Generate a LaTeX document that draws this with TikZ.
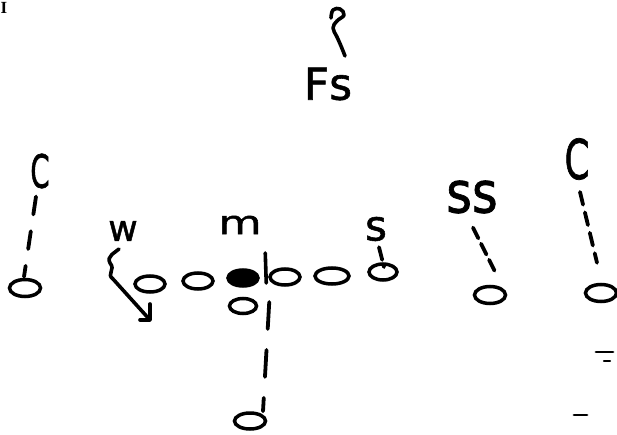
\documentclass[tikz,border=0pt]{standalone}
\usepackage{fontspec}
\usepackage{graphicx}
\setmainfont{DejaVu Sans}[BoldFont=DejaVu Sans, BoldFeatures={FakeBold=1.3}]
\newfontfamily\markfont{Liberation Serif}
\usetikzlibrary{shapes.geometric}
\begin{document}
\begin{tikzpicture}[x=1pt,y=-1pt,
  ink/.style={line width=3.6pt, line cap=round, line join=round},
  man/.style={ellipse, draw, line width=3.5pt, minimum width=30pt, minimum height=16pt, inner sep=0pt},
  lbl/.style={inner sep=0pt, font=\fontsize{#1}{#1}\selectfont\bfseries},
  lbl/.default=36,
  assign/.style={ink, line width=3.8pt}]
\useasboundingbox (0,0) rectangle (617,435);

% offensive line and backs
\node[man, minimum width=31pt, minimum height=17pt] (cl) at (25,288) {};
\node[man] (w1) at (150,284) {};
\node[man] (w2) at (198,281) {};
\node[man, fill] (ctr) at (243,278) {};
\node[man] (g2) at (285,277) {};
\node[man, minimum width=34pt] (t2) at (332,276) {};
\node[man, minimum width=28pt] (sl) at (383,272) {};
\node[man, minimum width=27pt, minimum height=15pt] (qb) at (243,306) {};
\node[man, minimum width=31pt] (rb) at (250,421) {};
\node[man, minimum width=31pt, minimum height=17pt] (ssm) at (490,295) {};
\node[man, minimum width=31pt, minimum height=17pt] (cr) at (601,293) {};

% defensive labels
\node[lbl=44] (lfs) at (328,84) {Fs};
\node[lbl=46] (lcl) at (40,171) {\scalebox{0.6}[1]{C}};
\node[lbl=36] (lw) at (123,231) {w};
\node[lbl=33] (lm) at (240,225) {\scalebox{1.35}[1]{m}};
\node[lbl=42] (ls) at (376,229) {s};
\node[lbl=52] (lss) at (472,197) {\scalebox{0.95}[1.1]{ss}};
\node[lbl=55] (lcr) at (577,159) {\scalebox{0.65}[1]{C}};
\node[inner sep=0pt, font=\markfont\bfseries\fontsize{17}{17}\selectfont] (mark) at (4,8) {I};

% free safety route
\draw[ink] plot[smooth, tension=0.7] coordinates
  {(331,18) (333,10) (340,9) (344,15) (337,21) (333,28) (337,37) (341,46) (345,56)};

% assignment lines
\draw[assign, dash pattern=on 18pt off 17pt]
  ([shift={(-4,8)}]lcl.south) -- ([shift={(-1,-1)}]cl.north);
\draw[assign, dash pattern=on 13pt off 8pt]
  ([shift={(3,12)}]lcr.south) -- ([shift={(-4,-20)}]cr.north);
\draw[assign, dash pattern=on 12pt off 6pt]
  ([shift={(1,14)}]lss.south) -- ([shift={(7,-9)}]ssm.north);
\draw[assign, dash pattern=on 13pt off 6pt]
  ([shift={(3,6)}]ls.south) -- ([shift={(1,-5)}]sl.center);
\draw[ink] ([shift={(-3,-24)}]g2.west) -- ([shift={(-2,6)}]g2.west);
\draw[assign, dash pattern=on 27pt off 21pt]
  ([shift={(11,-4)}]qb.east) -- ([shift={(13,0)}]rb.north);

% weak-side linebacker drop
\coordinate (wend) at (150,320);
\draw[ink] ([shift={(-4,8)}]lw.south) .. controls (116,252) and (106,256) .. (110,263)
  .. controls (116,270) and (106,274) .. (113,279) -- (wend);
\draw[ink] ([shift={(0,-16)}]wend) -- (wend) -- ([shift={(-10,0)}]wend);

% stray hash marks
\draw[ink, line width=2.8pt] (596,352) -- (613,352);
\draw[ink, line width=2.2pt] (604,361) -- (610,361);
\draw[ink, line width=2.8pt] (574,415) -- (587,415);
\end{tikzpicture}
\end{document}
